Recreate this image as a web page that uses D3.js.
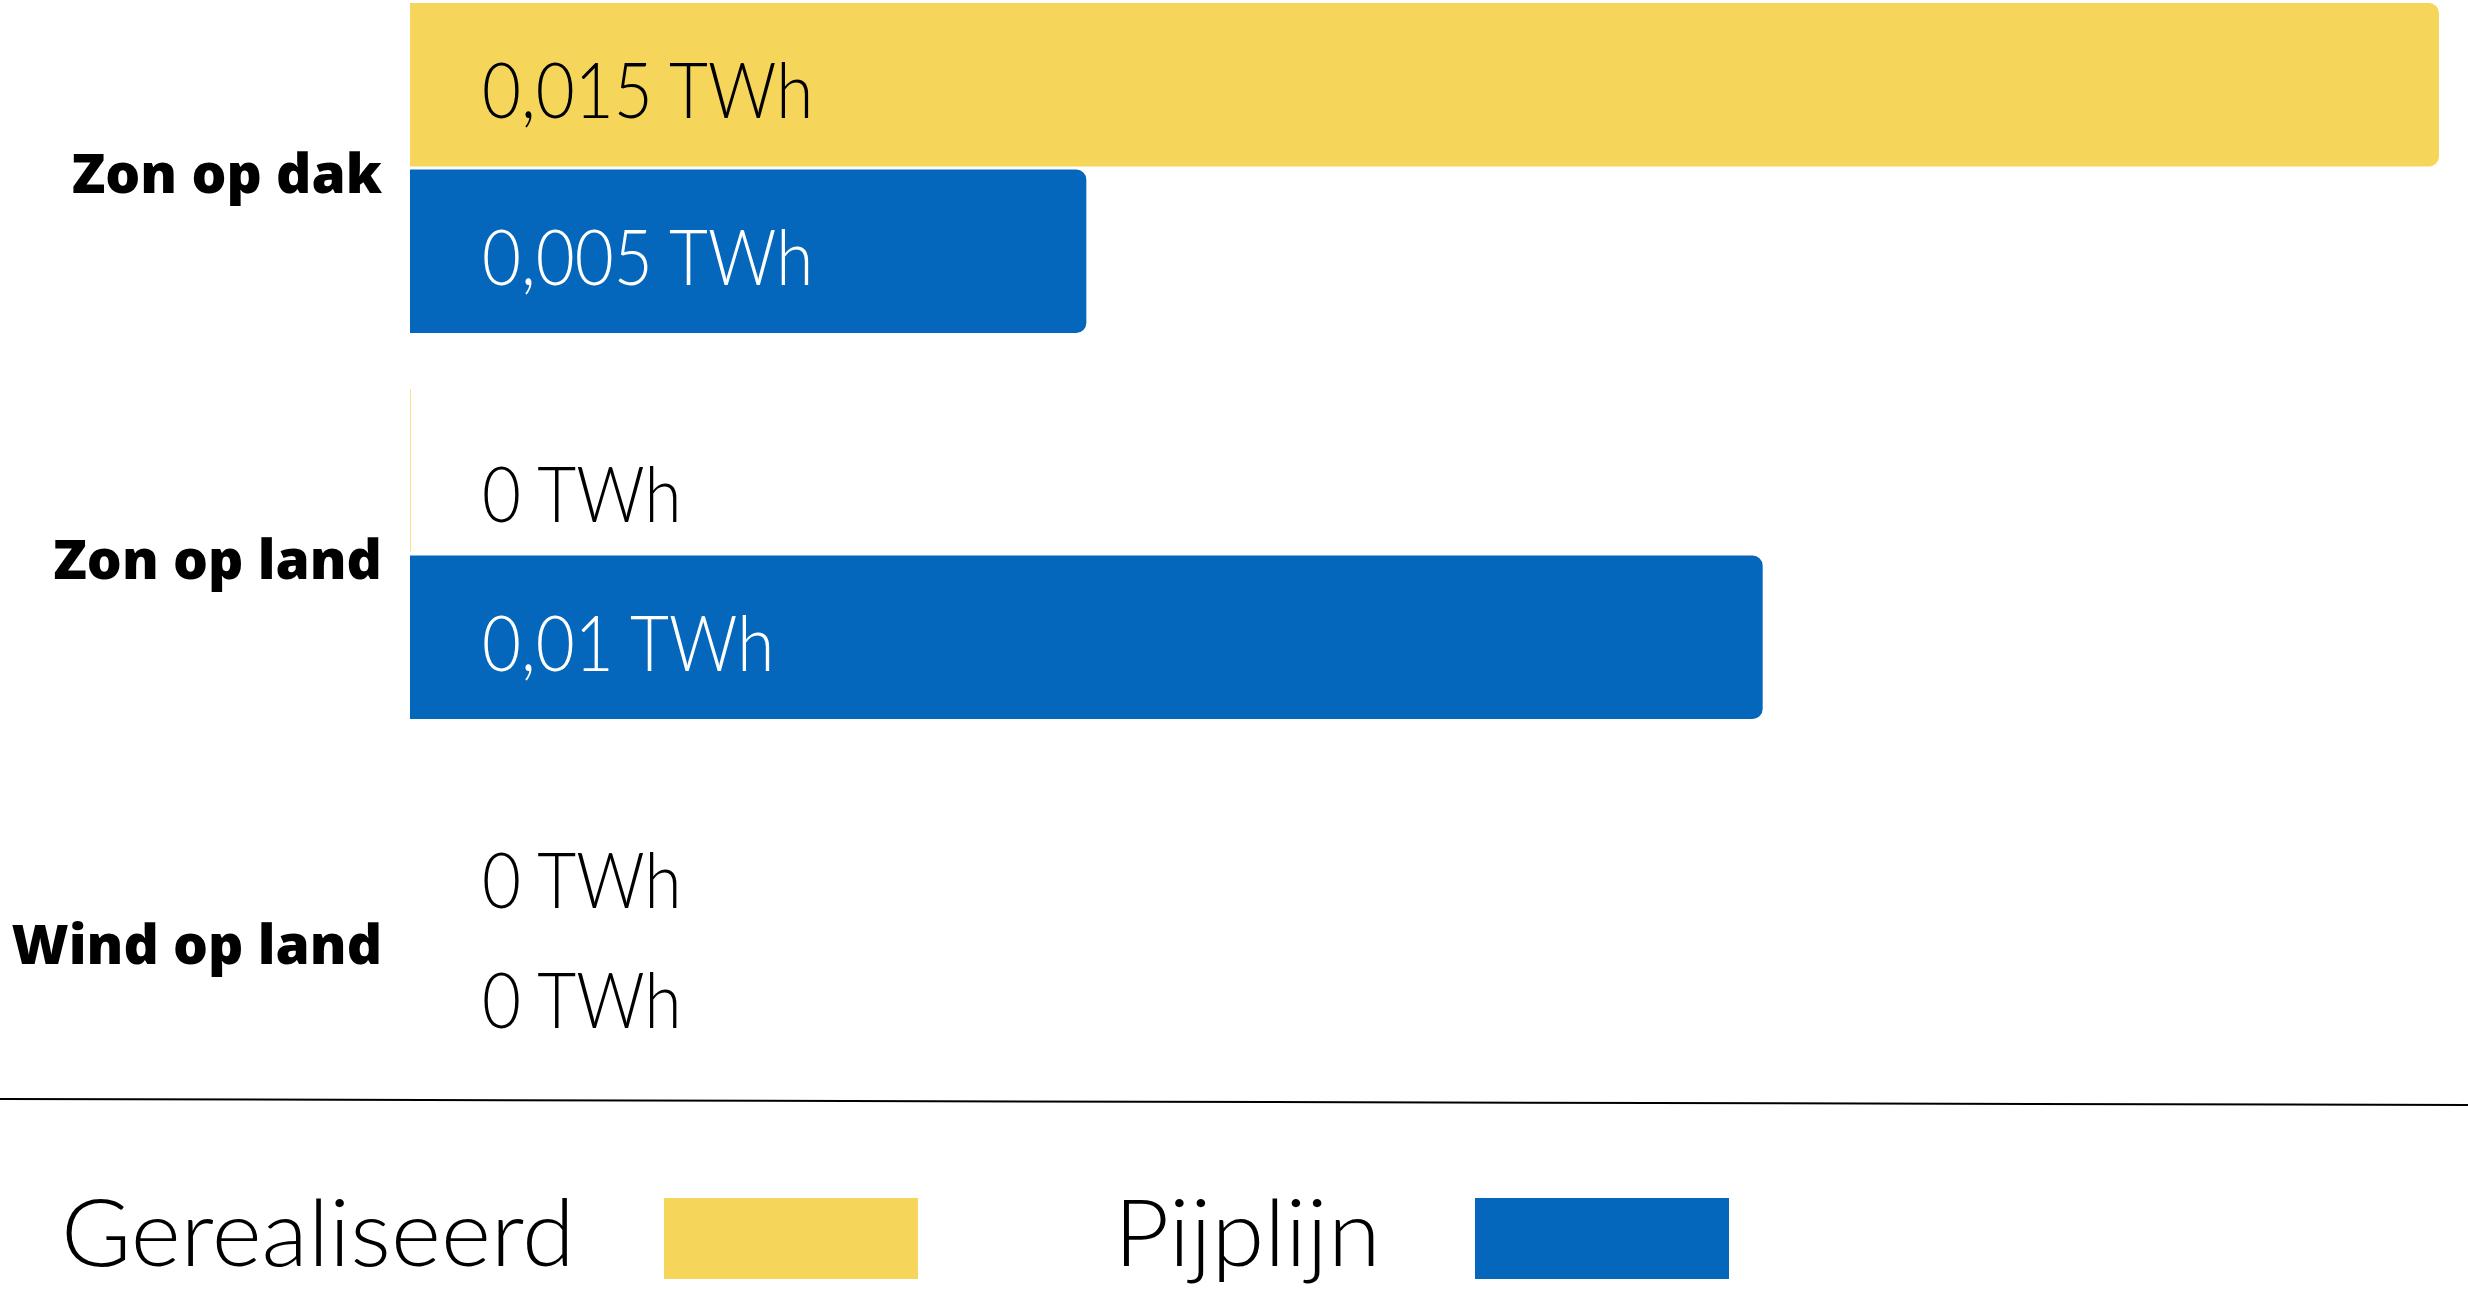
<!DOCTYPE html>
<html>
<head>
<meta charset="utf-8">
<script src="https://cdn.jsdelivr.net/npm/d3@7"></script>
<style>
  html, body { margin: 0; padding: 0; background: #fff; }
  svg { display: block; }
</style>
</head>
<body>
<div id="chart"></div>
<script>
const width = 2468
const height = 1296

// data
const categories = ['Zon op dak', 'Zon op land', 'Wind op land']
const series = ['Gerealiseerd', 'Pijplijn']
const gerealiseerd = [0.015, 0.000005, 0]
const pijplijn = [0.005, 0.01, 0]
const unit = 'TWh'

const colors = { 'Gerealiseerd': '#f6d65a', 'Pijplijn': '#0567bb' }
const labelColors = { 'Gerealiseerd': '#000', 'Pijplijn': '#fff' }

const values = { 'Gerealiseerd': gerealiseerd, 'Pijplijn': pijplijn }

const nl = d3.formatLocale({ decimal: ',', thousands: '.', grouping: [3], currency: ['€', ''] })
const fmt = nl.format('.3~f')

const svg = d3.select('#chart')
    .append('svg')
    .attr('width', width)
    .attr('height', height)

const x = d3.scaleLinear()
    .domain([0, d3.max(gerealiseerd.concat(pijplijn))])
    .range([410, 2439])

const y = d3.scaleBand()
    .domain(categories)
    .range([3, 1105])
    .paddingInner(0.145)
    .paddingOuter(0)

const yInner = d3.scaleBand()
    .domain(series)
    .range([0, y.bandwidth()])
    .paddingInner(0.018)

function barPath(x0, top, w, h, r) {
    r = Math.min(r, w, h / 2)
    return `M${x0},${top}H${x0 + w - r}A${r},${r} 0 0 1 ${x0 + w},${top + r}` +
        `V${top + h - r}A${r},${r} 0 0 1 ${x0 + w - r},${top + h}H${x0}Z`
}

const rows = []
categories.forEach((c, i) => {
    series.forEach(s => rows.push({ cat: c, series: s, value: values[s][i] }))
})

const g = svg.append('g')

g.selectAll('path.bar')
    .data(rows)
    .enter()
    .append('path')
    .attr('class', 'bar')
    .attr('d', d => barPath(x(0), y(d.cat) + yInner(d.series), x(d.value) - x(0), yInner.bandwidth(), 10))
    .attr('fill', d => colors[d.series])

// value labels, squeezed a bit to mimic a narrow geometric face
const labelX = x(0) + 72
g.selectAll('text.value')
    .data(rows)
    .enter()
    .append('text')
    .attr('class', 'value')
    .attr('transform', d => {
        const mid = y(d.cat) + yInner(d.series) + yInner.bandwidth() / 2
        const zero = fmt(d.value) === '0'
        let dy = 4
        if (zero) dy = d.series === series[0] ? 22 : -25
        return `translate(${labelX},${mid + dy}) scale(0.885,1)`
    })
    .attr('dominant-baseline', 'central')
    .attr('font-family', 'Lato, sans-serif')
    .attr('font-weight', 300)
    .attr('font-size', 76)
    .attr('fill', d => fmt(d.value) === '0' ? '#000' : labelColors[d.series])
    .text(d => `${fmt(d.value)} ${unit}`)

// category labels
svg.append('g')
    .selectAll('text')
    .data(categories)
    .enter()
    .append('text')
    .attr('x', 382)
    .attr('y', d => y(d) + y.bandwidth() / 2 + 3)
    .attr('text-anchor', 'end')
    .attr('dominant-baseline', 'central')
    .attr('font-family', '"Open Sans", sans-serif')
    .attr('font-weight', 800)
    .attr('font-size', 55)
    .attr('fill', '#000')
    .text(d => d)

// divider line
svg.append('line')
    .attr('x1', 0).attr('y1', 1099)
    .attr('x2', width).attr('y2', 1105)
    .attr('stroke', '#000')
    .attr('stroke-width', 2)

// legend
const legendTextX = [61, 1114]
const legendSwatchX = [664, 1475]
const legend = svg.append('g')
series.forEach((s, i) => {
    legend.append('text')
        .attr('transform', `translate(${legendTextX[i]},1266) scale(1.04,1)`)
        .attr('font-family', 'Lato, sans-serif')
        .attr('font-weight', 300)
        .attr('font-size', 92)
        .attr('fill', '#000')
        .text(s)
    legend.append('rect')
        .attr('x', legendSwatchX[i])
        .attr('y', 1198)
        .attr('width', 254)
        .attr('height', 81)
        .attr('fill', colors[s])
})
</script>
</body>
</html>
